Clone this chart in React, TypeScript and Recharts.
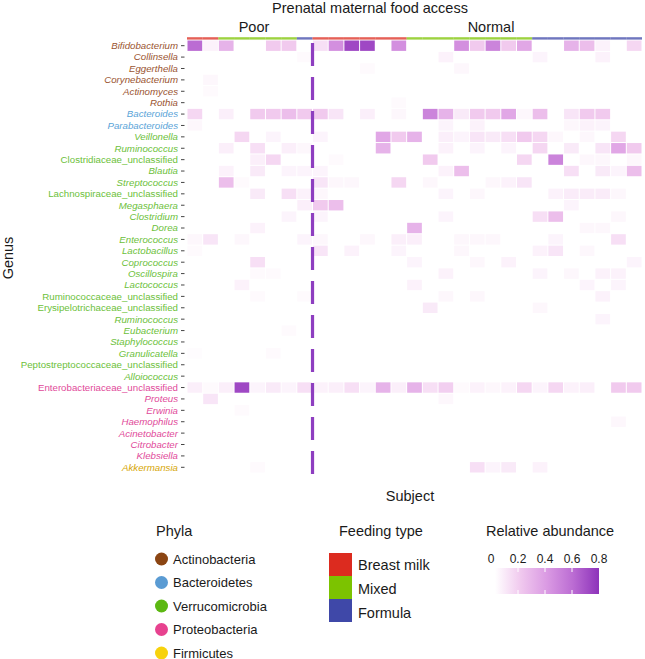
import { ScatterChart, Scatter, XAxis, YAxis } from 'recharts'

const FONT = '"Liberation Sans", Arial, Helvetica, sans-serif'

const genera = [
  'Bifidobacterium', 'Collinsella', 'Eggerthella', 'Corynebacterium', 'Actinomyces', 'Rothia',
  'Bacteroides', 'Parabacteroides',
  'Veillonella', 'Ruminococcus', 'Clostridiaceae_unclassified', 'Blautia', 'Streptococcus',
  'Lachnospiraceae_unclassified', 'Megasphaera', 'Clostridium', 'Dorea', 'Enterococcus',
  'Lactobacillus', 'Coprococcus', 'Oscillospira', 'Lactococcus', 'Ruminococcaceae_unclassified',
  'Erysipelotrichaceae_unclassified', 'Ruminococcus', 'Eubacterium', 'Staphylococcus',
  'Granulicatella', 'Peptostreptococcaceae_unclassified', 'Alloiococcus',
  'Enterobacteriaceae_unclassified', 'Proteus', 'Erwinia', 'Haemophilus', 'Acinetobacter',
  'Citrobacter', 'Klebsiella',
  'Akkermansia',
]
// phylum index per genus row
const genusPhylum = [
  0, 0, 0, 0, 0, 0,
  1, 1,
  2, 2, 2, 2, 2, 2, 2, 2, 2, 2, 2, 2, 2, 2, 2, 2, 2, 2, 2, 2, 2, 2,
  3, 3, 3, 3, 3, 3, 3,
  4,
]
const phyla = ['Actinobacteria', 'Bacteroidetes', 'Verrucomicrobia', 'Proteobacteria', 'Firmicutes']
const phylaColors = ['#8b4513', '#5a9bd3', '#5cb812', '#e7428f', '#f7d20c']
const labelColors = ['#9a5430', '#5aa4d8', '#6cbf3a', '#df4a9a', '#d6a606']

const feedingTypes = ['Breast milk', 'Mixed', 'Formula']
const feedingColors = ['#dc2b1f', '#7cc300', '#3f48a8']
// feeding type per subject column (0-7 poor access, 8-28 normal access)
const subjectFeeding = [
  0, 0, 1, 1, 1, 1, 1, 2,
  0, 0, 0, 0, 0, 0, 1, 1, 1, 1, 1, 1, 1, 1, 2, 2, 2, 2, 2, 2, 2,
]
const accessGroups = ['Poor', 'Normal']
const accessSplit = 7.5

const abundanceTicks = ['0', '0.2', '0.4', '0.6', '0.8']

// relative abundance, one row per genus, one value per subject
const abundance = [
  [0.6, 0.05, 0.3, 0, 0, 0.2, 0.2, 0, 0.12, 0.45, 0.75, 0.75, 0, 0.45, 0, 0, 0, 0.45, 0.2, 0.5, 0.2, 0.35, 0, 0, 0.3, 0.25, 0.05, 0, 0.15],
  [0, 0, 0, 0, 0, 0, 0, 0.02, 0, 0, 0, 0, 0, 0, 0, 0, 0.05, 0, 0, 0, 0, 0, 0.04, 0, 0, 0, 0.05, 0, 0],
  [0, 0, 0, 0, 0, 0, 0, 0, 0, 0, 0, 0.02, 0, 0, 0, 0, 0, 0.03, 0, 0, 0, 0, 0, 0, 0, 0, 0, 0, 0],
  [0, 0.03, 0, 0, 0, 0, 0, 0, 0, 0, 0, 0, 0, 0, 0, 0, 0, 0, 0, 0, 0, 0, 0, 0, 0, 0, 0, 0, 0],
  [0, 0.02, 0, 0, 0, 0, 0, 0, 0, 0, 0, 0, 0, 0, 0, 0, 0, 0, 0, 0, 0, 0, 0, 0, 0, 0, 0, 0, 0],
  [0, 0, 0, 0, 0, 0, 0, 0, 0, 0, 0, 0, 0, 0.02, 0, 0, 0, 0, 0, 0, 0, 0, 0, 0, 0, 0, 0, 0, 0],
  [0.15, 0, 0.06, 0, 0.2, 0.2, 0.25, 0.2, 0.2, 0.1, 0, 0.06, 0, 0.03, 0, 0.5, 0.3, 0.08, 0.2, 0.2, 0.35, 0.03, 0.25, 0, 0.1, 0.2, 0.2, 0, 0],
  [0.03, 0, 0, 0, 0, 0, 0, 0, 0, 0, 0, 0, 0, 0, 0, 0, 0.04, 0, 0.05, 0, 0, 0, 0, 0, 0.03, 0.05, 0.04, 0, 0],
  [0, 0, 0, 0.15, 0, 0.04, 0, 0, 0.04, 0, 0, 0, 0.35, 0.2, 0.3, 0, 0.06, 0.04, 0.1, 0.08, 0.12, 0.2, 0.15, 0.03, 0, 0.03, 0, 0.15, 0],
  [0, 0, 0.06, 0, 0.12, 0, 0.06, 0.03, 0, 0, 0, 0, 0.3, 0, 0, 0, 0.05, 0, 0.04, 0, 0.04, 0, 0.15, 0, 0.08, 0, 0.1, 0.35, 0.2],
  [0, 0, 0, 0, 0.06, 0.15, 0, 0, 0, 0.02, 0, 0, 0, 0, 0, 0.2, 0, 0, 0, 0, 0, 0.15, 0, 0.5, 0, 0.03, 0.03, 0, 0.03],
  [0, 0, 0.05, 0, 0.08, 0, 0.04, 0.04, 0.04, 0, 0, 0, 0, 0, 0, 0, 0.05, 0.25, 0, 0, 0, 0, 0, 0, 0.12, 0, 0.08, 0.04, 0.25],
  [0, 0, 0.25, 0.02, 0, 0, 0, 0, 0.1, 0.03, 0.03, 0, 0, 0.15, 0, 0.03, 0, 0, 0, 0.03, 0.05, 0.1, 0, 0, 0, 0, 0, 0, 0],
  [0, 0, 0, 0, 0.08, 0, 0.12, 0.05, 0.03, 0, 0, 0, 0, 0, 0, 0, 0.04, 0, 0.03, 0, 0, 0, 0, 0.05, 0.07, 0.07, 0.07, 0.03, 0],
  [0, 0, 0, 0, 0, 0, 0, 0.06, 0.2, 0.25, 0, 0, 0, 0, 0, 0, 0, 0, 0, 0, 0, 0, 0, 0, 0.04, 0, 0, 0, 0],
  [0, 0, 0, 0, 0, 0, 0.04, 0, 0.04, 0, 0, 0, 0, 0, 0, 0, 0.04, 0, 0, 0, 0, 0, 0.12, 0.25, 0, 0, 0, 0.03, 0],
  [0, 0, 0, 0, 0.05, 0, 0, 0, 0, 0, 0, 0, 0, 0, 0.3, 0, 0, 0, 0, 0, 0, 0, 0, 0, 0, 0.03, 0.03, 0, 0],
  [0.03, 0.1, 0, 0.03, 0, 0, 0, 0.04, 0.03, 0, 0, 0.03, 0, 0.06, 0.06, 0, 0, 0.03, 0.03, 0.03, 0, 0, 0, 0.04, 0, 0, 0, 0.12, 0],
  [0.02, 0, 0, 0, 0, 0, 0, 0, 0.1, 0, 0.05, 0, 0, 0.04, 0, 0, 0, 0.03, 0, 0, 0, 0, 0.05, 0.1, 0, 0.03, 0, 0, 0],
  [0, 0, 0, 0, 0.12, 0, 0, 0, 0, 0, 0, 0, 0, 0, 0.04, 0, 0, 0, 0.03, 0, 0.05, 0, 0, 0, 0, 0, 0, 0, 0.04],
  [0, 0, 0, 0, 0.02, 0.02, 0, 0, 0, 0, 0, 0, 0, 0, 0, 0, 0.05, 0, 0, 0, 0, 0, 0.04, 0, 0.03, 0, 0.05, 0.05, 0],
  [0, 0, 0, 0.05, 0, 0, 0, 0, 0, 0, 0, 0, 0, 0, 0.05, 0, 0, 0, 0, 0, 0, 0, 0, 0, 0, 0.04, 0, 0.04, 0],
  [0, 0, 0, 0, 0.02, 0, 0, 0.02, 0, 0, 0, 0, 0, 0, 0, 0, 0.03, 0, 0.03, 0, 0, 0, 0, 0, 0, 0, 0.05, 0, 0],
  [0, 0, 0, 0, 0, 0, 0, 0, 0, 0, 0, 0, 0, 0, 0, 0.08, 0, 0, 0, 0, 0, 0, 0.03, 0, 0, 0, 0, 0, 0],
  [0, 0, 0, 0, 0, 0, 0, 0, 0, 0, 0, 0, 0, 0, 0, 0, 0, 0, 0, 0, 0, 0, 0, 0, 0, 0, 0.04, 0, 0],
  [0, 0, 0, 0, 0, 0, 0.02, 0, 0, 0, 0, 0, 0, 0, 0, 0, 0, 0, 0, 0, 0, 0, 0, 0, 0, 0, 0, 0, 0],
  [0, 0, 0, 0, 0, 0, 0, 0, 0, 0, 0, 0, 0, 0, 0, 0, 0, 0, 0, 0, 0, 0, 0, 0, 0, 0, 0, 0, 0],
  [0.01, 0, 0, 0, 0, 0.02, 0, 0, 0, 0, 0, 0, 0, 0, 0, 0, 0, 0, 0, 0, 0, 0, 0, 0, 0, 0, 0, 0, 0],
  [0, 0, 0, 0, 0, 0, 0, 0, 0, 0, 0, 0, 0, 0, 0, 0, 0, 0, 0, 0, 0, 0, 0, 0, 0, 0, 0, 0, 0],
  [0, 0, 0, 0, 0, 0, 0, 0, 0, 0, 0, 0, 0, 0, 0, 0, 0, 0, 0, 0, 0, 0, 0, 0, 0, 0, 0, 0, 0],
  [0.06, 0.02, 0.06, 0.75, 0.04, 0.08, 0.04, 0.12, 0.05, 0.06, 0.12, 0.04, 0.3, 0.06, 0.3, 0.12, 0.18, 0.02, 0.05, 0.03, 0.05, 0.15, 0.04, 0.15, 0.05, 0.06, 0, 0.2, 0.2],
  [0, 0.1, 0, 0, 0, 0, 0, 0, 0, 0, 0, 0, 0, 0, 0, 0, 0.03, 0, 0, 0, 0, 0, 0, 0, 0, 0, 0, 0, 0],
  [0, 0, 0, 0.02, 0, 0, 0, 0, 0, 0, 0, 0, 0, 0, 0, 0, 0, 0, 0, 0, 0, 0, 0, 0, 0, 0, 0, 0, 0],
  [0, 0, 0, 0, 0, 0, 0, 0, 0, 0, 0, 0, 0, 0, 0, 0, 0, 0, 0, 0, 0, 0, 0, 0, 0, 0, 0, 0.03, 0],
  [0, 0, 0, 0, 0, 0, 0, 0, 0, 0, 0, 0, 0, 0, 0, 0, 0, 0, 0, 0, 0, 0, 0, 0, 0, 0, 0, 0, 0],
  [0, 0, 0, 0, 0, 0, 0, 0, 0, 0, 0, 0, 0, 0, 0, 0, 0, 0, 0, 0, 0, 0, 0, 0, 0, 0, 0, 0, 0],
  [0, 0, 0, 0, 0, 0, 0, 0, 0, 0, 0, 0, 0, 0, 0, 0, 0, 0, 0, 0, 0, 0, 0, 0, 0, 0, 0, 0, 0],
  [0, 0, 0, 0, 0.02, 0, 0, 0, 0, 0, 0, 0, 0, 0, 0, 0, 0, 0, 0.12, 0.04, 0.08, 0, 0.05, 0, 0, 0, 0, 0, 0],
]

// white -> purple colour ramp
const RAMP: [number, number[]][] = [
  [0, [255, 255, 255]],
  [0.2, [241, 202, 238]],
  [0.4, [219, 155, 227]],
  [0.6, [187, 108, 211]],
  [0.85, [140, 48, 186]],
]
function rampColor(v: number) {
  if (v <= 0) return '#ffffff'
  for (let i = 1; i < RAMP.length; i++) {
    const [v1, c1] = RAMP[i]
    const [v0, c0] = RAMP[i - 1]
    if (v <= v1 || i === RAMP.length - 1) {
      const t = Math.min(1, (v - v0) / (v1 - v0))
      const c = c0.map((a, k) => Math.round(a + (c1[k] - a) * t))
      return `rgb(${c[0]},${c[1]},${c[2]})`
    }
  }
  return '#ffffff'
}

const W = 645
const H = 659
const MARGIN = { top: 40, right: 3, bottom: 186, left: 0 }
const Y_AXIS_W = 187
const nCols = subjectFeeding.length
const nRows = genera.length
const colW = (W - MARGIN.left - MARGIN.right - Y_AXIS_W) / nCols
const rowH = (H - MARGIN.top - MARGIN.bottom) / nRows

const cells = abundance.flatMap((row, r) => row.map((v, c) => ({ x: c, y: r, v })))
const feedingBars = subjectFeeding.map((f, c) => ({ x: c, y: -0.5, f }))
// one point in the middle of the split column boundary, drawn as a full-height dashed line
const divider = [{ x: accessSplit, y: (nRows - 1) / 2 }]

function HeatCell(props: any) {
  const { cx, cy, payload } = props
  if (cx == null || cy == null || !payload || payload.v <= 0) return <g />
  return (
    <rect
      x={cx - colW / 2 + 0.5}
      y={cy - rowH / 2 + 0.5}
      width={colW - 1}
      height={rowH - 1}
      fill={rampColor(payload.v)}
    />
  )
}

function FeedingBar(props: any) {
  const { cx, cy, payload } = props
  if (cx == null || cy == null) return <g />
  return <rect x={cx - colW / 2} y={cy - 2.8} width={colW} height={2.4} fill={feedingColors[payload.f]} fillOpacity={0.75} />
}

function DividerLine(props: any) {
  const { cx, cy } = props
  if (cx == null || cy == null) return <g />
  const half = (nRows * rowH) / 2
  return (
    <line
      x1={cx}
      x2={cx}
      y1={cy - half + 3}
      y2={cy + half + 2}
      stroke="#8e3ec0"
      strokeWidth={3.2}
      strokeDasharray="23 11"
    />
  )
}

function GenusTick(props: any) {
  const { x, y, payload } = props
  const i = payload.value as number
  const name = genera[i]
  if (name == null) return <g />
  const italic = !name.includes('_unclassified')
  return (
    <g>
      <text
        x={x - 1}
        y={y}
        dy="0.35em"
        textAnchor="end"
        fontFamily={FONT}
        fontSize={9.7}
        fontStyle={italic ? 'italic' : 'normal'}
        fill={labelColors[genusPhylum[i]]}
      >
        {name}
      </text>
      <line x1={x + 2} x2={x + 5.5} y1={y} y2={y} stroke="#444" strokeWidth={1} />
    </g>
  )
}

export default function App() {
  const rowTicks = genera.map((_, i) => i)
  const txt = { fontFamily: FONT, fill: '#1a1a1a' }
  return (
    <div style={{ position: 'relative', width: W, height: H, background: '#fff' }}>
      <style>{'body{margin:0}'}</style>
      <ScatterChart width={W} height={H} margin={MARGIN} style={{ position: 'absolute', left: 0, top: 0 }}>
        <defs>
          <linearGradient id="abundanceGrad" x1="0" y1="0" x2="1" y2="0">
            <stop offset="0%" stopColor="#ffffff" />
            <stop offset="25%" stopColor="#f0c8ee" />
            <stop offset="50%" stopColor="#da9ae3" />
            <stop offset="75%" stopColor="#bb6cd3" />
            <stop offset="100%" stopColor="#8d33ba" />
          </linearGradient>
        </defs>
        <XAxis type="number" dataKey="x" domain={[-0.5, nCols - 0.5]} hide />
        <YAxis
          type="number"
          dataKey="y"
          domain={[-0.5, nRows - 0.5]}
          reversed
          ticks={rowTicks}
          interval={0}
          width={Y_AXIS_W}
          axisLine={false}
          tickLine={false}
          tick={(p: any) => <GenusTick {...p} />}
        />
        <Scatter data={cells} shape={(p: any) => <HeatCell {...p} />} isAnimationActive={false} />
        <Scatter data={feedingBars} shape={(p: any) => <FeedingBar {...p} />} isAnimationActive={false} />
        <Scatter data={divider} shape={(p: any) => <DividerLine {...p} />} isAnimationActive={false} />
      </ScatterChart>

      <svg width={W} height={H} style={{ position: 'absolute', left: 0, top: 0, pointerEvents: 'none' }}>
        <text x={370} y={13} textAnchor="middle" fontSize={14.5} {...txt}>Prenatal maternal food access</text>
        <text x={254} y={32} textAnchor="middle" fontSize={14.5} {...txt}>{accessGroups[0]}</text>
        <text x={491} y={32} textAnchor="middle" fontSize={14.5} {...txt}>{accessGroups[1]}</text>
        <text x={0} y={0} transform="translate(13,258) rotate(-90)" textAnchor="middle" fontSize={14.5} {...txt}>Genus</text>
        <text x={410} y={501} textAnchor="middle" fontSize={14.5} {...txt}>Subject</text>

        {/* Phyla legend */}
        <text x={156} y={536} fontSize={14.5} {...txt}>Phyla</text>
        {phyla.map((p, i) => (
          <g key={p}>
            <circle cx={161.5} cy={559 + i * 23.5} r={6.5} fill={phylaColors[i]} />
            <text x={173} y={563.5 + i * 23.5} fontSize={13} {...txt}>{p}</text>
          </g>
        ))}

        {/* Feeding type legend */}
        <text x={339} y={536} fontSize={14.5} {...txt}>Feeding type</text>
        {feedingTypes.map((f, i) => (
          <g key={f}>
            <rect x={329} y={553 + i * 23} width={23} height={23} fill={feedingColors[i]} />
            <text x={358} y={570 + i * 23.8} fontSize={14.5} {...txt}>{f}</text>
          </g>
        ))}

        {/* Relative abundance colour bar */}
        <text x={486} y={536} fontSize={14.5} {...txt}>Relative abundance</text>
        {abundanceTicks.map((t, i) => (
          <text key={t} x={491 + i * 27} y={563} textAnchor="middle" fontSize={12} {...txt}>{t}</text>
        ))}
        <rect x={495} y={568} width={104} height={26} fill="url(#abundanceGrad)" />
        {[1, 2, 3].map(i => (
          <line key={i} x1={491 + i * 27} x2={491 + i * 27} y1={568} y2={572} stroke="#fff" strokeWidth={1} />
        ))}
        {[1, 2, 3].map(i => (
          <line key={'b' + i} x1={491 + i * 27} x2={491 + i * 27} y1={590} y2={594} stroke="#fff" strokeWidth={1} />
        ))}
      </svg>
    </div>
  )
}
